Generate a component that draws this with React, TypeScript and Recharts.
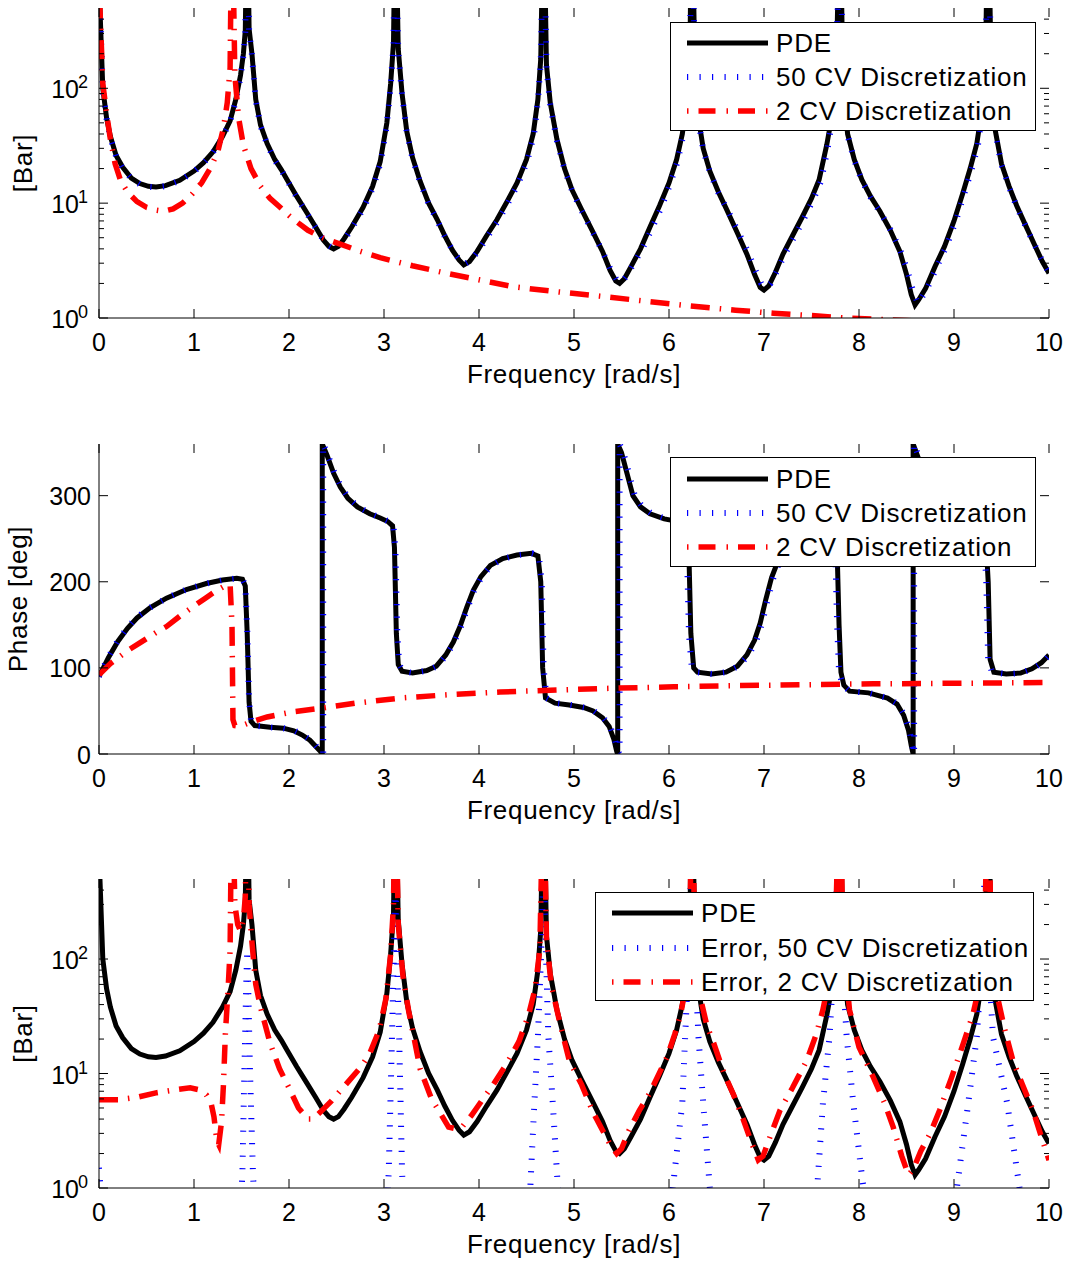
import React from 'react';
import { LineChart, Line, XAxis, YAxis, Legend } from 'recharts';

const FONT = '"Liberation Sans", Arial, Helvetica, sans-serif';

// ---------- axis ticks ----------
const FREQ_TICKS = [0, 1, 2, 3, 4, 5, 6, 7, 8, 9, 10];
const MAG_TICKS = [1, 2, 3, 4, 5, 6, 7, 8, 9, 10, 20, 30, 40, 50, 60, 70, 80, 90, 100, 200, 300, 400];
const MAG_EXPONENTS: Record<number, string> = { 1: '0', 10: '1', 100: '2' };
const PHASE_TICKS = [0, 100, 200, 300];

// ---------- data: [frequency rad/s, value] ----------
const PDE_MAG: [number, number][] = [
  [0, 3000], [0.01, 500], [0.04, 100], [0.08, 55], [0.12, 38], [0.18, 26], [0.25, 20.5], [0.34, 16.5],
  [0.43, 14.8], [0.52, 14], [0.6, 13.8], [0.7, 14.2], [0.85, 15.8], [1.0, 19], [1.1, 22.5], [1.2, 28],
  [1.3, 38], [1.38, 52], [1.44, 80], [1.49, 130], [1.52, 200], [1.54, 320], [1.56, 5000], [1.58, 330],
  [1.61, 200], [1.65, 80], [1.7, 48], [1.77, 33], [1.85, 24], [1.92, 19.5], [1.98, 16], [2.08, 11.5],
  [2.19, 8.2], [2.28, 6.2], [2.36, 4.8], [2.42, 4.2], [2.47, 4.0], [2.52, 4.2], [2.58, 4.9], [2.66, 6.2],
  [2.78, 9.2], [2.88, 14], [2.96, 23], [3.03, 50], [3.07, 110], [3.1, 250], [3.12, 5000], [3.15, 220],
  [3.19, 90], [3.24, 42], [3.3, 25], [3.38, 15.5], [3.47, 10], [3.56, 7.2], [3.64, 5.2], [3.72, 3.9],
  [3.79, 3.2], [3.84, 2.9], [3.9, 3.1], [3.98, 3.8], [4.08, 5.2], [4.19, 7.2], [4.3, 10.5], [4.4, 15],
  [4.5, 24], [4.57, 40], [4.62, 80], [4.65, 180], [4.68, 5000], [4.71, 160], [4.75, 75], [4.82, 36],
  [4.9, 20], [4.98, 13], [5.08, 8.8], [5.2, 5.6], [5.3, 3.8], [5.38, 2.6], [5.44, 2.1], [5.48, 2.0],
  [5.53, 2.2], [5.6, 2.8], [5.7, 4.0], [5.8, 6.2], [5.9, 9.5], [6.0, 15], [6.08, 24], [6.14, 40],
  [6.19, 80], [6.22, 200], [6.24, 5000], [6.27, 200], [6.31, 55], [6.36, 30], [6.43, 19], [6.52, 12.5],
  [6.61, 8.7], [6.72, 5.5], [6.82, 3.6], [6.9, 2.4], [6.96, 1.85], [7.0, 1.75], [7.05, 1.9], [7.12, 2.5],
  [7.2, 3.6], [7.3, 5.2], [7.4, 7.5], [7.5, 11], [7.58, 16], [7.66, 32], [7.72, 60], [7.76, 130],
  [7.8, 5000], [7.83, 120], [7.88, 40], [7.95, 24], [8.03, 16], [8.12, 11.5], [8.22, 8.5], [8.33, 5.8],
  [8.43, 3.8], [8.5, 2.4], [8.55, 1.6], [8.59, 1.3], [8.63, 1.45], [8.7, 1.8], [8.8, 2.8], [8.9, 4.2],
  [9.0, 7], [9.09, 12], [9.17, 20], [9.24, 33], [9.3, 70], [9.33, 150], [9.36, 5000], [9.39, 150],
  [9.43, 45], [9.5, 22], [9.58, 14], [9.66, 9.5], [9.75, 6.5], [9.85, 4.3], [9.93, 3.1], [10, 2.45],
];

const CV50_MAG: [number, number][] = [
  [0, 3000], [0.01, 480], [0.04, 98], [0.08, 54], [0.12, 37], [0.18, 25.5], [0.25, 20], [0.34, 16.3],
  [0.43, 14.6], [0.52, 13.9], [0.6, 13.7], [0.7, 14.1], [0.85, 15.7], [1.0, 18.8], [1.1, 22.3], [1.2, 27.6],
  [1.3, 37.5], [1.38, 51], [1.44, 78], [1.49, 125], [1.52, 195], [1.54, 310], [1.56, 5000], [1.58, 320],
  [1.61, 195], [1.65, 78], [1.7, 47], [1.77, 32.5], [1.85, 23.6], [1.92, 19.2], [1.98, 15.8], [2.08, 11.3],
  [2.19, 8.1], [2.28, 6.1], [2.36, 4.8], [2.42, 4.25], [2.48, 4.0], [2.53, 4.25], [2.59, 4.9], [2.67, 6.2],
  [2.79, 9.2], [2.89, 14], [2.97, 23.5], [3.03, 48], [3.07, 105], [3.1, 240], [3.12, 5000], [3.15, 210],
  [3.19, 88], [3.24, 41], [3.3, 24.5], [3.38, 15.2], [3.47, 9.8], [3.56, 7.1], [3.64, 5.1], [3.72, 3.9],
  [3.79, 3.25], [3.85, 2.95], [3.91, 3.15], [3.99, 3.8], [4.09, 5.1], [4.2, 7.0], [4.31, 10.2], [4.41, 14.6],
  [4.51, 23.5], [4.58, 40], [4.62, 78], [4.65, 170], [4.68, 5000], [4.71, 150], [4.75, 72], [4.82, 35],
  [4.9, 19.6], [4.98, 12.8], [5.08, 8.6], [5.2, 5.5], [5.3, 3.8], [5.38, 2.7], [5.45, 2.15], [5.5, 2.05],
  [5.55, 2.3], [5.62, 2.9], [5.72, 4.0], [5.82, 6.0], [5.92, 9.2], [6.01, 14.5], [6.09, 23], [6.15, 39],
  [6.19, 75], [6.22, 190], [6.24, 5000], [6.27, 190], [6.31, 52], [6.36, 29], [6.43, 18.5], [6.52, 12.3],
  [6.62, 8.6], [6.73, 5.6], [6.83, 3.8], [6.91, 2.6], [6.97, 2.0], [7.02, 1.85], [7.07, 2.0], [7.14, 2.6],
  [7.22, 3.6], [7.32, 5.1], [7.42, 7.3], [7.52, 10.8], [7.6, 15.5], [7.67, 30], [7.72, 55], [7.76, 120],
  [7.8, 5000], [7.83, 115], [7.88, 39], [7.95, 23.5], [8.03, 15.7], [8.12, 11.3], [8.22, 8.4], [8.33, 5.9],
  [8.43, 4.0], [8.51, 2.6], [8.57, 1.7], [8.62, 1.35], [8.66, 1.5], [8.73, 1.9], [8.82, 2.8], [8.92, 4.2],
  [9.02, 7], [9.1, 11.5], [9.18, 19], [9.25, 31], [9.3, 65], [9.33, 140], [9.36, 5000], [9.39, 140],
  [9.43, 43], [9.5, 21.5], [9.58, 13.7], [9.66, 9.3], [9.75, 6.4], [9.85, 4.3], [9.93, 3.15], [10, 2.5],
];

const CV2_MAG: [number, number][] = [
  [0, 3000], [0.01, 500], [0.04, 110], [0.08, 60], [0.12, 36], [0.17, 22], [0.23, 15.5], [0.3, 12.5],
  [0.4, 10.3], [0.5, 9.2], [0.6, 8.7], [0.68, 8.5], [0.78, 8.9], [0.88, 10], [0.98, 12], [1.08, 15],
  [1.17, 20], [1.25, 28], [1.31, 45], [1.35, 75], [1.38, 150], [1.4, 5000], [1.43, 130], [1.47, 55],
  [1.52, 32], [1.6, 20], [1.7, 14], [1.8, 11], [1.9, 9.3], [2.0, 7.8], [2.1, 6.7], [2.2, 5.8],
  [2.35, 5.0], [2.54, 4.4], [2.75, 3.8], [2.96, 3.35], [3.3, 2.85], [3.66, 2.45], [4.0, 2.15], [4.36, 1.87],
  [4.8, 1.7], [5.27, 1.55], [5.69, 1.42], [6.2, 1.28], [6.7, 1.17], [7.1, 1.1], [7.5, 1.05], [7.85, 1.0],
  [8.5, 0.95], [10, 0.85],
];

const PDE_PHASE: [number, number][] = [
  [0, 90], [0.1, 112], [0.2, 131], [0.3, 146], [0.4, 158], [0.54, 170], [0.71, 181], [0.92, 191],
  [1.13, 198], [1.3, 202], [1.45, 204], [1.51, 203], [1.54, 195], [1.56, 140], [1.58, 60], [1.6, 38],
  [1.64, 33], [1.8, 31], [1.94, 30], [2.05, 27], [2.14, 22], [2.22, 16], [2.28, 9], [2.33, 3],
  [2.35, 0], [2.35, 360], [2.4, 347], [2.47, 326], [2.54, 310], [2.62, 297], [2.72, 287], [2.85, 279],
  [2.96, 274], [3.04, 270], [3.09, 265], [3.11, 240], [3.13, 140], [3.15, 104], [3.19, 96], [3.3, 94],
  [3.45, 97], [3.55, 102], [3.65, 115], [3.73, 130], [3.8, 148], [3.87, 170], [3.94, 190], [4.02, 206],
  [4.12, 219], [4.25, 227], [4.4, 231], [4.55, 233], [4.62, 230], [4.65, 200], [4.67, 100], [4.7, 65],
  [4.8, 59], [4.95, 57], [5.1, 54], [5.2, 50], [5.3, 42], [5.37, 32], [5.42, 17], [5.45, 3],
  [5.46, 0], [5.46, 360], [5.5, 350], [5.56, 325], [5.62, 300], [5.7, 287], [5.8, 279], [5.95, 273],
  [6.1, 270], [6.18, 262], [6.21, 230], [6.23, 140], [6.26, 100], [6.3, 95], [6.45, 93], [6.6, 95],
  [6.72, 102], [6.82, 115], [6.9, 132], [6.96, 152], [7.02, 180], [7.08, 205], [7.14, 222], [7.25, 236],
  [7.4, 243], [7.6, 246], [7.73, 245], [7.77, 235], [7.79, 150], [7.81, 95], [7.84, 80], [7.9, 73],
  [8.1, 71], [8.3, 65], [8.4, 58], [8.47, 45], [8.52, 28], [8.55, 10], [8.57, 0], [8.57, 360],
  [8.62, 345], [8.7, 318], [8.8, 297], [8.95, 283], [9.1, 276], [9.28, 270], [9.33, 262], [9.36, 200],
  [9.38, 110], [9.42, 95], [9.55, 93], [9.7, 94], [9.82, 99], [9.92, 106], [10, 115],
];

const CV50_PHASE: [number, number][] = [
  [0, 90], [0.1, 113], [0.2, 132], [0.3, 147], [0.4, 159], [0.54, 170], [0.71, 181], [0.92, 191],
  [1.13, 198], [1.3, 202], [1.45, 204], [1.51, 203], [1.54, 196], [1.56, 145], [1.58, 62], [1.6, 39],
  [1.64, 33], [1.8, 31], [1.94, 30], [2.05, 27.5], [2.14, 22.5], [2.22, 16.5], [2.28, 10], [2.33, 3.5],
  [2.36, 0], [2.36, 360], [2.41, 347], [2.48, 326], [2.55, 310], [2.63, 297], [2.73, 287], [2.86, 279],
  [2.97, 274], [3.05, 270], [3.1, 264], [3.12, 238], [3.14, 140], [3.16, 104], [3.2, 96], [3.31, 94],
  [3.46, 97], [3.56, 102], [3.66, 115], [3.74, 130], [3.81, 148], [3.88, 170], [3.95, 190], [4.03, 206],
  [4.13, 219], [4.26, 227], [4.41, 231], [4.56, 233], [4.63, 230], [4.66, 200], [4.68, 100], [4.71, 65],
  [4.81, 59], [4.96, 57], [5.11, 54], [5.21, 50], [5.31, 42], [5.38, 32], [5.43, 17], [5.46, 3],
  [5.48, 0], [5.48, 360], [5.52, 350], [5.58, 325], [5.64, 300], [5.72, 287], [5.82, 279], [5.97, 273],
  [6.1, 270], [6.16, 262], [6.19, 230], [6.21, 140], [6.24, 100], [6.29, 95], [6.45, 93], [6.6, 95],
  [6.73, 102], [6.84, 115], [6.92, 132], [6.98, 152], [7.04, 180], [7.1, 205], [7.16, 222], [7.27, 236],
  [7.42, 243], [7.6, 246], [7.71, 245], [7.75, 235], [7.77, 150], [7.79, 95], [7.83, 80], [7.9, 73],
  [8.1, 71], [8.3, 65], [8.41, 58], [8.48, 45], [8.53, 28], [8.56, 10], [8.58, 0], [8.58, 360],
  [8.63, 345], [8.71, 318], [8.81, 297], [8.96, 283], [9.1, 276], [9.26, 270], [9.31, 262], [9.34, 200],
  [9.36, 110], [9.4, 95], [9.55, 93], [9.7, 94], [9.83, 99], [9.93, 106], [10, 114],
];

const CV2_PHASE: [number, number][] = [
  [0, 92], [0.12, 105], [0.3, 120], [0.43, 129], [0.6, 141], [0.71, 148], [0.85, 160], [0.99, 171],
  [1.12, 181], [1.24, 190], [1.32, 195], [1.38, 197], [1.4, 150], [1.41, 40], [1.43, 33], [1.48, 32],
  [1.6, 37], [1.77, 43], [2.04, 49], [2.33, 53], [2.7, 59], [3.17, 65], [3.7, 69], [4.22, 72],
  [4.75, 74], [5.27, 76], [6.05, 78], [6.75, 79.5], [7.45, 80.5], [8.15, 81.5], [8.85, 82], [9.5, 82.5],
  [10, 83],
];

const ERR50_MAG: [number, number][] = [
  [0, 1.5], [0.02, 0.9], [0.1, 0.5], [1.45, 0.5], [1.5, 0.9], [1.51, 1.4], [1.53, 10], [1.55, 60],
  [1.56, 120], [1.57, 60], [1.59, 10], [1.62, 1.4], [1.63, 0.9], [1.7, 0.5], [3.0, 0.5], [3.04, 0.9],
  [3.05, 1.4], [3.08, 15], [3.1, 80], [3.12, 600], [3.14, 80], [3.16, 20], [3.19, 1.4], [3.2, 0.9],
  [3.3, 0.5], [4.5, 0.5], [4.54, 1.0], [4.58, 5], [4.62, 21], [4.66, 150], [4.68, 800], [4.7, 150],
  [4.73, 21], [4.78, 5], [4.83, 1.0], [4.88, 0.5], [6.0, 0.5], [6.04, 1.0], [6.14, 5.5], [6.17, 21],
  [6.21, 120], [6.24, 1000], [6.27, 120], [6.31, 21], [6.36, 5.5], [6.43, 1.0], [6.5, 0.5], [7.5, 0.5],
  [7.56, 1.0], [7.62, 5.5], [7.69, 21], [7.75, 150], [7.78, 1000], [7.81, 150], [7.87, 21], [7.94, 5.5],
  [8.04, 1.1], [8.1, 0.5], [9.0, 0.5], [9.03, 1.0], [9.15, 5.5], [9.24, 21], [9.3, 120], [9.33, 1000],
  [9.36, 120], [9.41, 21], [9.56, 5.5], [9.69, 1.0], [9.75, 0.5], [10, 0.5],
];

const ERR2_MAG: [number, number][] = [
  [0, 5.9], [0.2, 5.9], [0.4, 6.2], [0.61, 6.8], [0.8, 7.2], [0.96, 7.5], [1.06, 7.2], [1.13, 6.5],
  [1.18, 5.5], [1.21, 4.2], [1.24, 2.6], [1.26, 2.4], [1.29, 3.8], [1.31, 8], [1.33, 22], [1.36, 57],
  [1.38, 120], [1.4, 5000], [1.43, 300], [1.46, 200], [1.49, 175], [1.52, 220], [1.54, 350], [1.56, 5000],
  [1.58, 300], [1.61, 140], [1.65, 60], [1.7, 38], [1.8, 18.5], [1.9, 11], [2.0, 7.5], [2.1, 5],
  [2.2, 4.0], [2.25, 4.0], [2.33, 4.6], [2.45, 5.8], [2.64, 8.8], [2.76, 11.5], [2.85, 15], [2.95, 24],
  [3.02, 45], [3.07, 110], [3.1, 300], [3.12, 5000], [3.15, 200], [3.2, 70], [3.26, 35], [3.38, 11],
  [3.5, 6], [3.6, 4.4], [3.68, 3.4], [3.75, 3.3], [3.82, 3.4], [3.92, 4.3], [4.03, 5.8], [4.15, 8],
  [4.3, 12.5], [4.42, 19], [4.52, 32], [4.59, 55], [4.64, 120], [4.68, 5000], [4.71, 150], [4.76, 60],
  [4.85, 28], [4.95, 13], [5.08, 8], [5.2, 4.6], [5.3, 3.2], [5.38, 2.4], [5.45, 2.0], [5.5, 2.2],
  [5.58, 3.2], [5.69, 4.8], [5.8, 6.8], [5.98, 14], [6.06, 22], [6.12, 32], [6.18, 60], [6.22, 150],
  [6.24, 5000], [6.27, 180], [6.32, 50], [6.4, 26], [6.47, 18.5], [6.58, 10], [6.68, 6.5], [6.78, 4],
  [6.86, 2.6], [6.94, 1.76], [6.99, 1.9], [7.07, 2.9], [7.17, 4.8], [7.3, 7.5], [7.45, 13], [7.55, 22],
  [7.62, 36], [7.69, 70], [7.75, 160], [7.8, 5000], [7.83, 150], [7.9, 36], [8.0, 17], [8.15, 9.3],
  [8.27, 5.5], [8.36, 3.4], [8.45, 1.9], [8.52, 1.3], [8.57, 1.45], [8.65, 2.1], [8.75, 3.0], [8.85, 4.8],
  [8.97, 9], [9.1, 18.5], [9.2, 33], [9.26, 55], [9.32, 130], [9.36, 5000], [9.39, 150], [9.45, 50],
  [9.53, 25], [9.62, 13], [9.72, 8], [9.83, 4.8], [9.92, 2.8], [10, 1.75],
];

const LEGEND_TOP = ['PDE', '50 CV Discretization', '2 CV Discretization'];
const LEGEND_ERR = ['PDE', 'Error, 50 CV Discretization', 'Error, 2 CV Discretization'];

const rows = (a: [number, number][]) => a.map(([f, v]) => ({ f, v }));

// ---------- styles ----------
const PLOT_LEFT = 99;
const PLOT_RIGHT = 1049;
const W = 1069;
const STYLE_PDE = { stroke: '#000000', strokeWidth: 5 };
const STYLE_50 = { stroke: '#0000ff', strokeWidth: 6, strokeDasharray: '1.2 11.3' };
const STYLE_2 = { stroke: '#ff0000', strokeWidth: 5.5, strokeDasharray: '19 10 1.5 10' };

const makeXTick = (plotTop: number, plotBottom: number) => (p: any) => {
  const x = p.x;
  return (
    <g>
      <line x1={x} x2={x} y1={plotBottom} y2={plotBottom - 9} stroke="#000" strokeWidth={1} />
      <line x1={x} x2={x} y1={plotTop} y2={plotTop + 9} stroke="#000" strokeWidth={1} />
      <text x={x} y={plotBottom + 33} textAnchor="middle" fontSize={25} fontFamily={FONT} fill="#000">
        {p.payload.value}
      </text>
    </g>
  );
};

const logTick = (p: any) => {
  const y = p.y;
  const v = p.payload.value;
  const exp = MAG_EXPONENTS[v];
  const major = exp !== undefined;
  const len = major ? 9 : 5;
  return (
    <g>
      <line x1={PLOT_LEFT} x2={PLOT_LEFT + len} y1={y} y2={y} stroke="#000" strokeWidth={1} />
      <line x1={PLOT_RIGHT} x2={PLOT_RIGHT - len} y1={y} y2={y} stroke="#000" strokeWidth={1} />
      {major && (
        <text x={79} y={y + 10} textAnchor="end" fontSize={25} fontFamily={FONT} fill="#000">10</text>
      )}
      {major && (
        <text x={78} y={y} textAnchor="start" fontSize={18} fontFamily={FONT} fill="#000">{exp}</text>
      )}
    </g>
  );
};

const linTick = (p: any) => {
  const y = p.y;
  return (
    <g>
      <line x1={PLOT_LEFT} x2={PLOT_LEFT + 9} y1={y} y2={y} stroke="#000" strokeWidth={1} />
      <line x1={PLOT_RIGHT} x2={PLOT_RIGHT - 9} y1={y} y2={y} stroke="#000" strokeWidth={1} />
      <text x={91} y={y + 9.5} textAnchor="end" fontSize={25} fontFamily={FONT} fill="#000">{p.payload.value}</text>
    </g>
  );
};

const HTitle = (props: any) => (
  <text x={props.tx} y={props.ty} textAnchor="middle" fontSize={26} letterSpacing={0.7} fontFamily={FONT} fill="#000">
    {props.text}
  </text>
);

const VTitle = (props: any) => (
  <text
    x={props.tx}
    y={props.ty}
    transform={`rotate(-90 ${props.tx} ${props.ty})`}
    textAnchor="middle"
    fontSize={26}
    letterSpacing={0.7}
    fontFamily={FONT}
    fill="#000"
  >
    {props.text}
  </text>
);

const LegendBox = ({ w, h, labels, rowYs }: { w: number; h: number; labels: string[]; rowYs: number[] }) => {
  const styles = [STYLE_PDE, STYLE_50, { ...STYLE_2, strokeDasharray: '1.5 10 17 11' }];
  return (
    <svg width={w} height={h} style={{ display: 'block' }}>
      <rect x={0.5} y={0.5} width={w - 1} height={h - 1} fill="#fff" stroke="#000" strokeWidth={1} />
      {labels.map((lab, i) => (
        <g key={lab}>
          <line x1={17} x2={98} y1={rowYs[i]} y2={rowYs[i]} {...styles[i]} />
          <text x={106} y={rowYs[i] + 9} fontSize={26} letterSpacing={0.8} fontFamily={FONT} fill="#000">
            {lab}
          </text>
        </g>
      ))}
    </svg>
  );
};

type PanelProps = {
  top: number;
  height: number;
  plotTop: number;
  plotBottom: number;
  log: boolean;
  yLabel: string;
  yLabelX: number;
  title?: string;
  series: { data: [number, number][]; style: any; name: string }[];
  legend: { left: number; top: number; w: number; h: number; labels: string[]; rowYs: number[] };
};

const Panel = (p: PanelProps) => {
  const xAxisH = 80;
  const bottomMargin = p.height - p.plotBottom - xAxisH;
  const midY = (p.plotTop + p.plotBottom) / 2;
  return (
    <div style={{ position: 'absolute', left: 0, top: p.top }}>
      <LineChart
        width={W}
        height={p.height}
        margin={{ top: p.plotTop, right: W - PLOT_RIGHT, bottom: bottomMargin, left: 0 }}
      >
        <XAxis
          dataKey="f"
          type="number"
          domain={[0, 10]}
          ticks={FREQ_TICKS}
          interval={0}
          allowDataOverflow
          height={xAxisH}
          tickLine={false}
          tickSize={0}
          tickMargin={0}
          tick={makeXTick(p.plotTop, p.plotBottom)}
          axisLine={{ stroke: '#000', strokeWidth: 1 }}
          label={<HTitle tx={(PLOT_LEFT + PLOT_RIGHT) / 2} ty={p.plotBottom + 65} text="Frequency [rad/s]" />}
        />
        <XAxis
          xAxisId="top"
          orientation="top"
          type="number"
          domain={[0, 10]}
          height={0}
          tick={false}
          tickLine={false}
          axisLine={{ stroke: '#000', strokeWidth: 1 }}
          label={p.title ? <HTitle tx={(PLOT_LEFT + PLOT_RIGHT) / 2} ty={p.plotTop - 22} text={p.title} /> : undefined}
        />
        {p.log ? (
          <YAxis
            type="number"
            scale="log"
            domain={[1, 500]}
            ticks={MAG_TICKS}
            interval={0}
            allowDataOverflow
            width={PLOT_LEFT}
            tickLine={false}
            tickSize={0}
            tickMargin={0}
            tick={logTick}
            axisLine={{ stroke: '#000', strokeWidth: 1 }}
            label={<VTitle tx={p.yLabelX} ty={midY} text={p.yLabel} />}
          />
        ) : (
          <YAxis
            type="number"
            domain={[0, 360]}
            ticks={PHASE_TICKS}
            interval={0}
            allowDataOverflow
            width={PLOT_LEFT}
            tickLine={false}
            tickSize={0}
            tickMargin={0}
            tick={linTick}
            axisLine={{ stroke: '#000', strokeWidth: 1 }}
            label={<VTitle tx={p.yLabelX} ty={midY} text={p.yLabel} />}
          />
        )}
        <YAxis
          yAxisId="right"
          orientation="right"
          type="number"
          domain={[0, 1]}
          width={0}
          tick={false}
          tickLine={false}
          axisLine={{ stroke: '#000', strokeWidth: 1 }}
        />
        {p.series.map((s) => (
          <Line
            key={s.name}
            name={s.name}
            data={rows(s.data)}
            dataKey="v"
            type="linear"
            dot={false}
            activeDot={false}
            isAnimationActive={false}
            {...s.style}
          />
        ))}
        <Legend
          layout="horizontal"
          verticalAlign="middle"
          align="center"
          wrapperStyle={{ left: p.legend.left, top: p.legend.top, width: p.legend.w, height: p.legend.h }}
          content={() => (
            <LegendBox w={p.legend.w} h={p.legend.h} labels={p.legend.labels} rowYs={p.legend.rowYs} />
          )}
        />
      </LineChart>
    </div>
  );
};

export default function App() {
  return (
    <div style={{ position: 'absolute', left: 0, top: 0, width: W, height: 1263, background: '#fff' }}>
      <Panel
        top={0}
        height={420}
        plotTop={8}
        plotBottom={318}
        log
        yLabel="[Bar]"
        yLabelX={32}
        series={[
          { name: 'PDE', data: PDE_MAG, style: STYLE_PDE },
          { name: '50 CV Discretization', data: CV50_MAG, style: STYLE_50 },
          { name: '2 CV Discretization', data: CV2_MAG, style: STYLE_2 },
        ]}
        legend={{ left: 670, top: 22, w: 366, h: 109, labels: LEGEND_TOP, rowYs: [21, 55, 89] }}
      />
      <Panel
        top={420}
        height={410}
        plotTop={24}
        plotBottom={334}
        log={false}
        yLabel="Phase [deg]"
        yLabelX={27}
        series={[
          { name: 'PDE', data: PDE_PHASE, style: STYLE_PDE },
          { name: '50 CV Discretization', data: CV50_PHASE, style: STYLE_50 },
          { name: '2 CV Discretization', data: CV2_PHASE, style: STYLE_2 },
        ]}
        legend={{ left: 670, top: 37, w: 366, h: 110, labels: LEGEND_TOP, rowYs: [22, 56, 90] }}
      />
      <Panel
        top={830}
        height={433}
        plotTop={49}
        plotBottom={358}
        log
        yLabel="[Bar]"
        yLabelX={32}
        title="Error"
        series={[
          { name: 'PDE', data: PDE_MAG, style: STYLE_PDE },
          { name: 'Error, 50 CV Discretization', data: ERR50_MAG, style: STYLE_50 },
          { name: 'Error, 2 CV Discretization', data: ERR2_MAG, style: STYLE_2 },
        ]}
        legend={{ left: 595, top: 62, w: 439, h: 109, labels: LEGEND_ERR, rowYs: [21, 56, 90] }}
      />
    </div>
  );
}
